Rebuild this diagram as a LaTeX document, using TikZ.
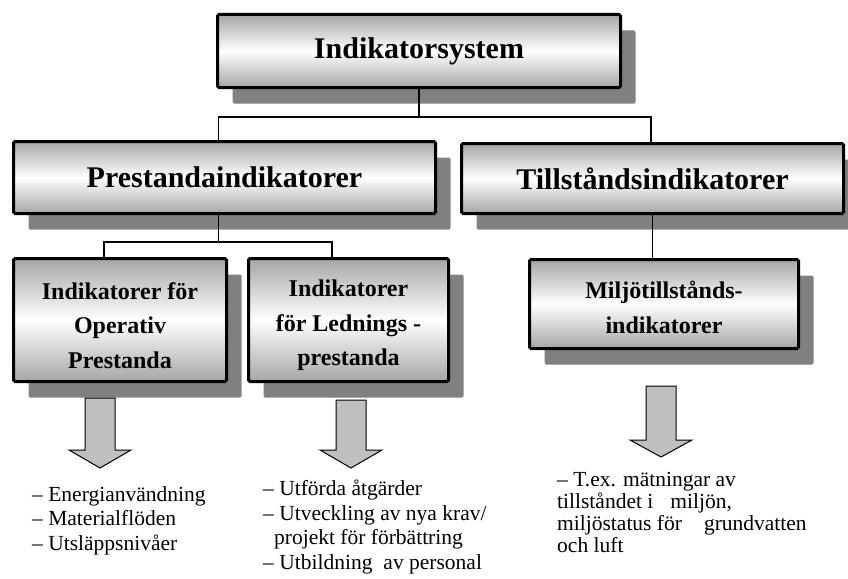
\documentclass[tikz,border=0pt]{standalone}
\usepackage{fontspec}
\setmainfont{Liberation Serif}
\usetikzlibrary{shadows}
\definecolor{skugga}{RGB}{128,128,128}
% block arrow: x, top, neck, tip
\newcommand{\fatarrow}[4]{\draw[pil] (#1-15,#2) -- (#1+15,#2) -- (#1+15,#3) -- (#1+31,#3) -- (#1,#4) -- (#1-31,#3) -- (#1-15,#3) -- cycle;}

\begin{document}
\begin{tikzpicture}[x=1pt,y=-1pt,
    every node/.style={inner sep=0pt},
    ruta/.style={draw,line width=3pt,rounded corners=1.5pt,
        top color=gray!70,bottom color=gray!70,middle color=white,
        drop shadow={shadow xshift=15pt,shadow yshift=-16pt,fill=skugga,opacity=1},
        align=center},
    stor/.style={font=\bfseries\fontsize{30}{34}\selectfont},
    liten/.style={font=\bfseries\fontsize{24}{34.5}\selectfont},
    lista/.style={anchor=north west,align=left,font=\fontsize{21.5}{24.5}\selectfont},
    linje/.style={line width=1.2pt},
    pil/.style={draw,fill=gray!50,line width=1pt,line join=miter}]
\useasboundingbox (0,0) rectangle (848,578);

\node[ruta,stor,minimum width=403pt,minimum height=73pt] (sys) at (419,51) {Indikatorsystem};
\node[ruta,stor,minimum width=422pt,minimum height=72pt] (prest) at (224.5,177.5) {Prestandaindikatorer};
\node[ruta,stor,minimum width=382pt,minimum height=70pt] (till) at (652.5,178.5) {Tillståndsindikatorer};

\node[ruta,liten,minimum width=213pt,minimum height=123pt] (oper) at (120,320) {\rule{0pt}{28pt}Indikatorer för\\Operativ\\Prestanda};
\node[ruta,liten,minimum width=200pt,minimum height=123pt] (led) at (348.5,320) {\rule{0pt}{28pt}Indikatorer\\för Lednings -\\prestanda};
\node[ruta,liten,minimum width=269pt,minimum height=89pt] (milj) at (664,304) {\rule{0pt}{24pt}Miljötillstånds-\\indikatorer};

% connectors
\draw[linje] (sys.south) -- ++(0,28) coordinate (gren1);
\draw[linje] ([xshift=-6pt]prest.north) |- (gren1) -| ([xshift=-1.5pt]till.north);
\draw[linje] ([xshift=-6pt]prest.south) -- ++(0,27) coordinate (gren2);
\draw[linje] ([xshift=-16pt]oper.north) |- (gren2) -| ([xshift=-16.5pt]led.north);
\draw[linje] (till.south) -- (till.south |- milj.north);

% arrows
\fatarrow{100}{398}{450}{468}
\fatarrow{351}{400}{450}{468}
\fatarrow{661}{386}{440}{457}

\node[lista] (lista1) at (32,486) {– Energianvändning\\– Materialflöden\\– Utsläppsnivåer};
\node[lista] (lista2) at (263,480) {– Utförda åtgärder\\– Utveckling av nya krav/\\\hspace{11pt}projekt för förbättring\\– Utbildning\hspace{11pt}av personal};
\node[lista,font=\fontsize{21.5}{22}\selectfont] (lista3) at (557,472) {– T.ex. mätningar av\\tillståndet i\hspace{17pt}miljön,\\miljöstatus för\hspace{22pt}grundvatten\\och luft};
\end{tikzpicture}
\end{document}
